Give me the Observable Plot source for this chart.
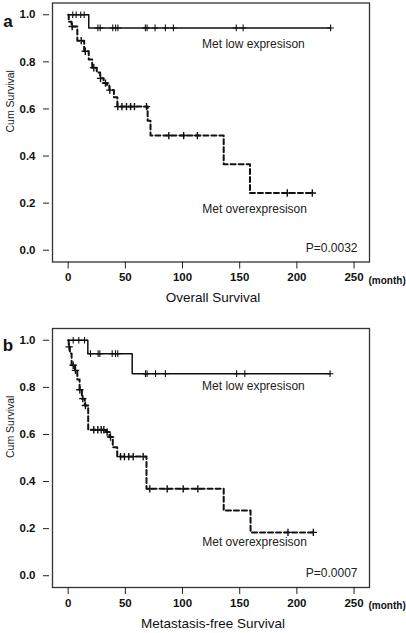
<!DOCTYPE html>
<html>
<head>
<meta charset="utf-8">
<script src="https://cdn.jsdelivr.net/npm/d3@7"></script>
<script src="https://cdn.jsdelivr.net/npm/@observablehq/plot@0.6"></script>
<style>
  html, body { margin: 0; padding: 0; background: #fff; }
  #chart svg { display: block; }
</style>
</head>
<body>
<div id="chart"></div>
<script>
// ---- tick labels ----
const xTicks = [0, 50, 100, 150, 200, 250];
const yTicks = [0, 0.2, 0.4, 0.6, 0.8, 1.0];

// ---- labels ----
const panelLetters = ["a", "b"];
const panelTitles = ["Overall Survival", "Metastasis-free Survival"];
const lowLabel = "Met low expresison";
const overLabel = "Met overexpresison";
const pValues = ["P=0.0032", "P=0.0007"];
const yLabel = "Cum Survival";
const unitLabel = "(month)";

// ---- panel a: overall survival ----
const osLowT = [0, 18, 229.5];
const osLowS = [1.0, 0.944, 0.944];
const osLowCensT = [4, 7, 11, 14, 26, 28, 39, 41.5, 43.5, 67.5, 69, 76, 85, 92, 147, 153, 229.5];
const osLowCensS = [1.0, 1.0, 1.0, 1.0, 0.944, 0.944, 0.944, 0.944, 0.944, 0.944, 0.944, 0.944, 0.944, 0.944, 0.944, 0.944, 0.944];

const osOverT = [0, 0.5, 3, 8, 14, 18, 21, 25, 28, 31, 34, 36, 40, 43, 69.5, 72, 136, 159, 213.5];
const osOverS = [1.0, 0.97, 0.95, 0.89, 0.845, 0.81, 0.775, 0.755, 0.73, 0.71, 0.70, 0.68, 0.65, 0.61, 0.55, 0.487, 0.365, 0.243, 0.243];
const osOverCensT = [3.5, 11.4, 15, 22.4, 28.3, 32.6, 36.4, 43.4, 47, 51, 54.6, 58, 68.5, 88, 101, 113, 191.6, 213.5];
const osOverCensS = [0.95, 0.89, 0.845, 0.775, 0.73, 0.71, 0.68, 0.61, 0.61, 0.61, 0.61, 0.61, 0.61, 0.487, 0.487, 0.487, 0.243, 0.243];

// ---- panel b: metastasis-free survival ----
const mfsLowT = [0, 17.2, 56, 229];
const mfsLowS = [1.0, 0.943, 0.858, 0.858];
const mfsLowCensT = [4.4, 9.3, 14.3, 19.5, 26.2, 27.7, 38.5, 41.4, 43.4, 67.6, 69, 76.4, 85, 147.3, 154.5, 229];
const mfsLowCensS = [1.0, 1.0, 1.0, 0.943, 0.943, 0.943, 0.943, 0.943, 0.943, 0.858, 0.858, 0.858, 0.858, 0.858, 0.858, 0.858];

const mfsOverT = [0, 0.5, 1.5, 3, 6, 8, 10, 12, 14.5, 17.5, 33, 36, 39, 42.9, 68.5, 136, 159.5, 214.4];
const mfsOverS = [1.0, 0.972, 0.944, 0.894, 0.872, 0.833, 0.79, 0.752, 0.723, 0.62, 0.61, 0.589, 0.546, 0.506, 0.369, 0.277, 0.184, 0.184];
const mfsOverCensT = [0.8, 4.4, 6.4, 10.2, 12.8, 15.1, 22.4, 25.9, 28.9, 31.2, 34.1, 37, 45.8, 49.2, 53, 56.9, 65.6, 71.4, 86.6, 100.6, 113.4, 192.2, 214.4];
const mfsOverCensS = [0.972, 0.894, 0.872, 0.79, 0.752, 0.723, 0.62, 0.62, 0.62, 0.62, 0.61, 0.589, 0.506, 0.506, 0.506, 0.506, 0.506, 0.369, 0.369, 0.369, 0.369, 0.184, 0.184];

const zip = (t, s) => t.map((d, i) => ({t: d, s: s[i]}));

const FONT = "'Liberation Sans', Arial, Helvetica, sans-serif";

function panel(cfg) {
  return Plot.plot({
    width: 406,
    height: cfg.height,
    marginLeft: 52,
    marginRight: 37,
    marginTop: cfg.marginTop,
    marginBottom: cfg.marginBottom,
    style: {fontFamily: FONT, color: "#111", background: "#fff", overflow: "visible"},
    x: {domain: [-13.7, 263.5]},
    y: {domain: [-0.05, 1.05]},
    marks: [
      Plot.frame({stroke: "#333", strokeWidth: 1.3}),
      Plot.axisY(yTicks, {tickFormat: d3.format(".1f"), tickSize: 6, tickPadding: 8, dx: -3, fontSize: 11.5, fontWeight: "bold", label: null, stroke: "#222"}),
      Plot.axisX(xTicks, {tickSize: 7, tickPadding: 4, fontSize: 11.5, fontWeight: "bold", label: null, stroke: "#222"}),
      Plot.line(zip(cfg.lowT, cfg.lowS), {x: "t", y: "s", curve: "step-after", stroke: "#111", strokeWidth: 1.5}),
      Plot.line(zip(cfg.overT, cfg.overS), {x: "t", y: "s", curve: "step-after", stroke: "#111", strokeWidth: 2, strokeDasharray: "5,3"}),
      Plot.dot(zip(cfg.lowCT, cfg.lowCS), {x: "t", y: "s", symbol: "plus", r: 2.3, stroke: "#111", strokeWidth: 1.1}),
      Plot.dot(zip(cfg.overCT, cfg.overCS), {x: "t", y: "s", symbol: "plus", r: 2.5, stroke: "#111", strokeWidth: 1.4}),
      Plot.text([lowLabel], {text: d => d, x: () => 162, y: () => cfg.lowLabelY, fontSize: 12, fill: "#222"}),
      Plot.text([overLabel], {text: d => d, x: () => 163, y: () => cfg.overLabelY, fontSize: 12, fill: "#222"}),
      Plot.text([cfg.p], {text: d => d, x: () => 253, y: () => cfg.pY, textAnchor: "end", fontSize: 12, fill: "#222"}),
      Plot.text([cfg.letter], {text: d => d, frameAnchor: "top-left", dx: -44.5, dy: cfg.letterDy, fontSize: 17, fontWeight: "bold", textAnchor: "middle"}),
      Plot.text([unitLabel], {text: d => d, frameAnchor: "bottom-right", dx: -1, dy: 21.5, textAnchor: "start", fontSize: 10, fontWeight: "bold"}),
      Plot.text([cfg.title], {text: d => d, frameAnchor: "bottom", dx: 2, dy: 40, fontSize: 13.5, fill: "#111"}),
      Plot.text([yLabel], {text: d => d, frameAnchor: "left", dx: -42, rotate: -90, fontSize: 10.5, fill: "#222"})
    ]
  });
}

const chart = document.getElementById("chart");
chart.append(panel({
  height: 316, marginTop: 2.5, marginBottom: 54.5,
  lowT: osLowT, lowS: osLowS, lowCT: osLowCensT, lowCS: osLowCensS,
  overT: osOverT, overS: osOverS, overCT: osOverCensT, overCS: osOverCensS,
  lowLabelY: 0.874, overLabelY: 0.176, pY: 0.0085, p: pValues[0],
  letter: panelLetters[0], letterDy: 11.5, title: panelTitles[0]
}));
chart.append(panel({
  height: 317, marginTop: 12, marginBottom: 46,
  lowT: mfsLowT, lowS: mfsLowS, lowCT: mfsLowCensT, lowCS: mfsLowCensS,
  overT: mfsOverT, overS: mfsOverS, overCT: mfsOverCensT, overCS: mfsOverCensS,
  lowLabelY: 0.804, overLabelY: 0.142, pY: 0.01, p: pValues[1],
  letter: panelLetters[1], letterDy: 10, title: panelTitles[1]
}));
</script>
</body>
</html>
